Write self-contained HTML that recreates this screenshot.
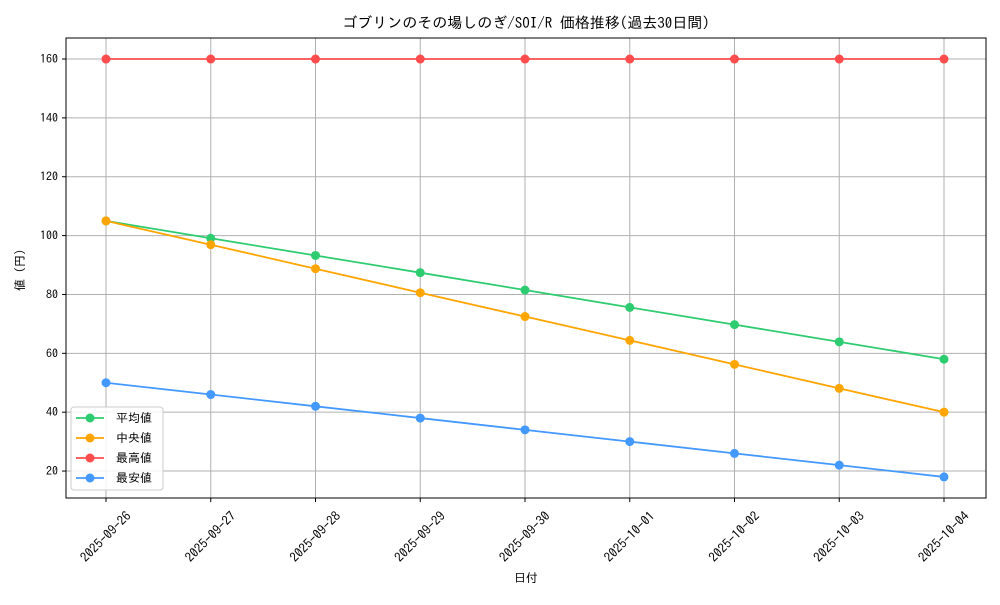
<!DOCTYPE html>
<html><head><meta charset="utf-8"><style>
body{margin:0;background:#fff}
svg text{font-family:"IPAGothic","Liberation Sans","Noto Sans CJK JP",sans-serif;fill:#000}
</style></head><body>
<svg id="chart" width="1000" height="600" xmlns="http://www.w3.org/2000/svg">
<rect width="1000" height="600" fill="#fff"/>
<text x="526" y="28" font-size="15" text-anchor="middle">ゴブリンのその場しのぎ/SOI/R 価格推移(過去30日間)</text>
<g id="grid"></g>
<g id="series"></g>
<rect x="66" y="38" width="920" height="460" fill="none" stroke="#000" stroke-width="1"/>
<g id="ticks"></g>
<text x="526" y="582" font-size="12" text-anchor="middle">日付</text>
<text x="0" y="0" font-size="12" text-anchor="middle" transform="translate(24,270) rotate(-90)">値 (円)</text>
<g id="legend"></g>
</svg>
<script>
const categories=["2025-09-26","2025-09-27","2025-09-28","2025-09-29","2025-09-30","2025-10-01","2025-10-02","2025-10-03","2025-10-04"];
const avgValues=[105,99.1,93.25,87.4,81.5,75.6,69.75,63.9,58];
const medianValues=[105,96.9,88.75,80.6,72.5,64.4,56.25,48.1,40];
const maxValues=[160,160,160,160,160,160,160,160,160];
const minValues=[50,46,42,38,34,30,26,22,18];
const yTicks=[20,40,60,80,100,120,140,160];
const seriesNames=["平均値","中央値","最高値","最安値"];
const seriesColors=["#2ecc71","#ffa500","#ff4d4d","#4499ff"];
const NS="http://www.w3.org/2000/svg";
function X(i){return 106+i*104.75;}
function Y(v){return 529.9-v*2.943;}
function mk(tag,attrs,parent){const e=document.createElementNS(NS,tag);for(const k in attrs)e.setAttribute(k,attrs[k]);parent.appendChild(e);return e;}
const grid=document.getElementById('grid'),ticks=document.getElementById('ticks'),ser=document.getElementById('series'),leg=document.getElementById('legend');
categories.forEach((c,i)=>{
  const l=mk('line',{x1:X(i),x2:X(i),y1:38,y2:498,stroke:'#b0b0b0','stroke-width':1},grid);
  
  
  mk('line',{x1:X(i),x2:X(i),y1:498,y2:502,stroke:'#000'},ticks);
  const t=mk('text',{x:0,y:4,'font-size':13,'text-anchor':'middle',transform:`translate(${X(i)},${537}) rotate(-45)`},ticks);
  t.textContent=c;
  
  
});
yTicks.forEach(v=>{
  const l=mk('line',{x1:66,x2:986,y1:Y(v),y2:Y(v),stroke:'#b0b0b0','stroke-width':1},grid);
  
  
  mk('line',{x1:62,x2:66,y1:Y(v),y2:Y(v),stroke:'#000'},ticks);
  const t=mk('text',{x:58,y:Y(v)+4,'font-size':12,'text-anchor':'end'},ticks);
  t.textContent=v;
  
  
});
const allSeries=[avgValues,medianValues,maxValues,minValues];
allSeries.forEach((vals,s)=>{
  const g=mk('g',{},ser);
  
  
  mk('polyline',{points:vals.map((v,i)=>X(i)+','+Y(v)).join(' '),fill:'none',stroke:seriesColors[s],'stroke-width':1.8},g);
  vals.forEach((v,i)=>{
    const c=mk('circle',{cx:X(i),cy:Y(v),r:4.5,fill:seriesColors[s]},g);
    
    
  });
});
const lb=mk('rect',{x:71,y:407,width:92,height:83,rx:3,fill:'#fff','fill-opacity':0.85,stroke:'#ccc'},leg);


seriesNames.forEach((n,s)=>{
  const y=418+s*20;
  const g=mk('g',{},leg);
  
  
  mk('line',{x1:76,x2:104,y1:y,y2:y,stroke:seriesColors[s],'stroke-width':1.8},g);
  mk('circle',{cx:90,cy:y,r:4.5,fill:seriesColors[s]},g);
  const t=mk('text',{x:116,y:y+4,'font-size':12},g);
  t.textContent=n;
});
</script>
</body></html>
